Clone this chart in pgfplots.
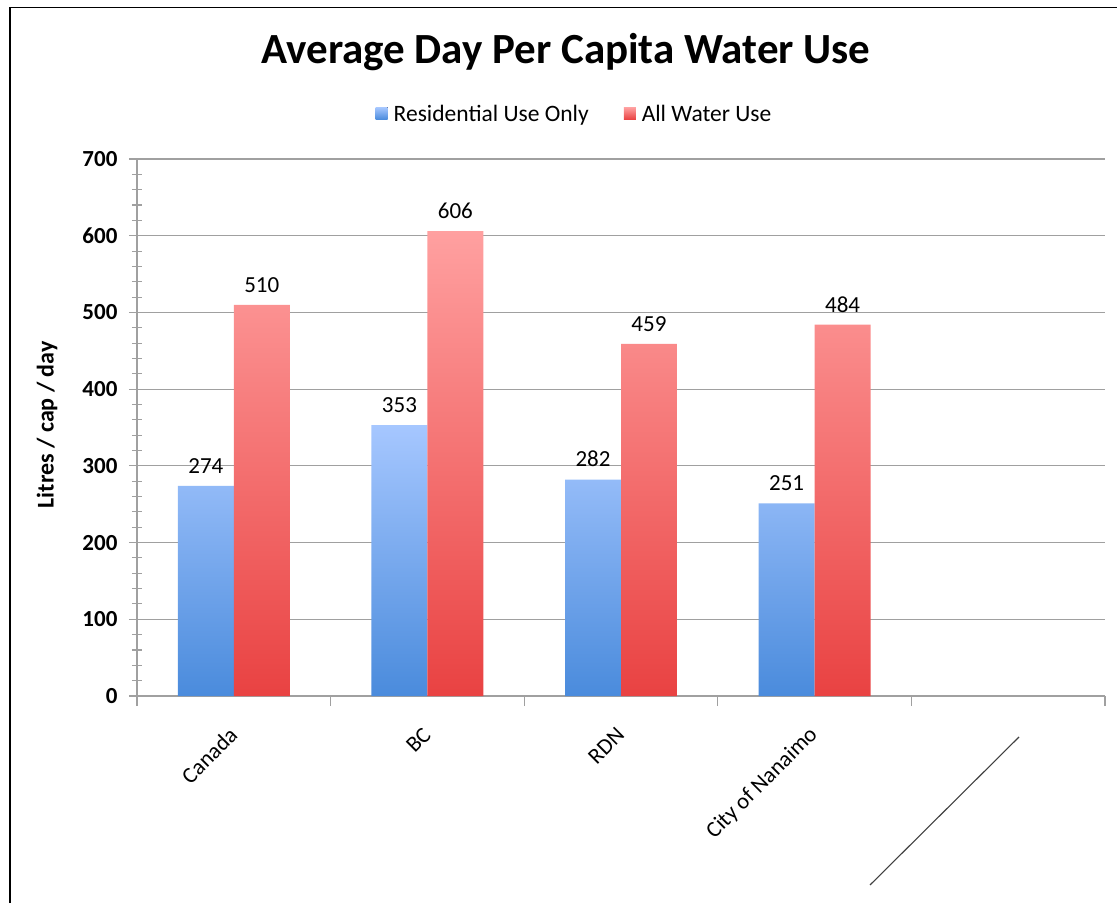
\documentclass[border=0pt]{standalone}
\usepackage{pgfplots}
\pgfplotsset{compat=1.18}
\usepackage{fontspec}
\setmainfont{Carlito}

\definecolor{blueTop}{RGB}{166,199,255}
\definecolor{blueBot}{RGB}{74,139,220}
\definecolor{redTop}{RGB}{255,160,160}
\definecolor{redBot}{RGB}{233,66,66}
\definecolor{gridgray}{RGB}{160,160,160}

\newcommand{\fs}[1]{\fontsize{#1}{#1}\selectfont}

\begin{document}
\begin{tikzpicture}
\useasboundingbox (0,0) rectangle (1117pt,903pt);
\draw[line width=1.6pt] (10pt,0) -- (10pt,895.5pt) -- (1117pt,895.5pt);

\begin{axis}[
  at={(137pt,207pt)}, anchor=south west,
  scale only axis, width=968pt, height=537pt,
  ybar=0pt, bar width=0.289,
  xmin=-0.5, xmax=4.5, ymin=0, ymax=700,
  axis x line=bottom, axis y line=left,
  axis line style={-, draw=gridgray, line width=1.3pt},
  xtick={0,1,2,3,4},
  xticklabels={Canada, BC, RDN, City of Nanaimo, {}},
  xtick style={draw=none},
  minor xtick={-0.5,0.5,1.5,2.5,3.5,4.5},
  minor x tick style={draw=gridgray, line width=1.1pt},
  xticklabel style={xshift=2pt, yshift=-25pt, rotate=45, anchor=east, font=\fs{22.5}},
  ytick={0,100,...,700},
  minor y tick num=4,
  tick align=outside,
  major tick length=8pt, minor tick length=10pt,
  ytick style={draw=gridgray, line width=1.1pt},
  minor y tick style={xshift=5pt},
  yticklabel style={font=\bfseries\fs{23}, xshift=-8pt},
  /pgf/number format/assume math mode=true,
  ymajorgrids, major grid style={draw=gridgray, line width=1.2pt},
  ylabel={\bfseries Litres / cap / day},
  ylabel style={at={(axis description cs:-0.093,0.505)}, anchor=center, font=\fs{24}},
  nodes near coords,
  nodes near coords style={font=\fs{23}, text=black, yshift=9pt},
  legend columns=2,
  legend style={at={(0.452,1.084)}, anchor=center, draw=none, fill=none,
    font=\fs{23.5}, /tikz/every even column/.append style={column sep=33pt}},
  legend image code/.code={\fill[#1] (0pt,-5.5pt) rectangle (12pt,6.5pt); \path (16pt,0pt);},
  clip=false,
]
\addplot[draw=none, top color=blueTop, bottom color=blueBot]
  coordinates {(0,274) (1,353) (2,282) (3,251)};
\addplot[draw=none, top color=redTop, bottom color=redBot]
  coordinates {(0,510) (1,606) (2,459) (3,484)};
\legend{Residential Use Only, All Water Use}
\end{axis}

% empty fifth category is marked by a diagonal stroke
\draw[black!75, line width=1.1pt] (870pt,18pt) -- (1019pt,166pt);

\node[font=\bfseries\fs{43}] at (566pt,851pt) {Average Day Per Capita Water Use};
\end{tikzpicture}
\end{document}
